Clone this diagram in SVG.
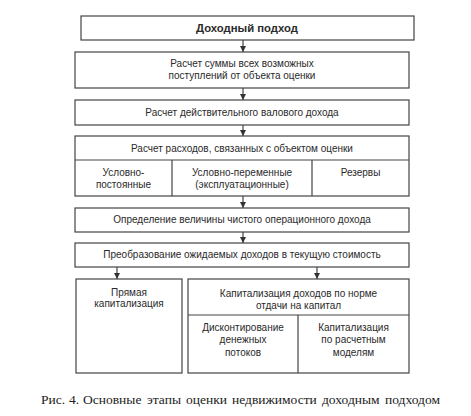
<svg xmlns="http://www.w3.org/2000/svg" width="471" height="416" viewBox="0 0 471 416">
<style>
.b{fill:#fff;stroke:#444;stroke-width:1.2}
.l{stroke:#444;stroke-width:1.2;fill:none}
.t{font-family:"Liberation Sans",Arial,sans-serif;font-size:10px;fill:#2a2a2a;text-anchor:middle}
.bold{font-weight:bold;font-size:11.3px}
.cap{font-family:"Liberation Serif","Times New Roman",serif;font-size:13.5px;fill:#222}
</style>
<defs>
<marker id="ah" viewBox="0 0 6 6" refX="6" refY="3" markerWidth="6" markerHeight="6" markerUnits="userSpaceOnUse" orient="auto">
<path d="M0,0 L6,3 L0,6 Z" fill="#333"/>
</marker>
</defs>
<rect width="471" height="416" fill="#fff"/>
<g id="connectors">
<line class="l" x1="243" y1="40" x2="243" y2="52" marker-end="url(#ah)"/>
<line class="l" x1="243" y1="88" x2="243" y2="100" marker-end="url(#ah)"/>
<line class="l" x1="243" y1="125" x2="243" y2="136" marker-end="url(#ah)"/>
<line class="l" x1="243" y1="196" x2="243" y2="208" marker-end="url(#ah)"/>
<line class="l" x1="243" y1="232" x2="243" y2="243" marker-end="url(#ah)"/>
<line class="l" x1="117" y1="267" x2="117" y2="279" marker-end="url(#ah)"/>
<line class="l" x1="317" y1="267" x2="317" y2="279" marker-end="url(#ah)"/>
</g>
<g id="n1">
<rect class="b" x="81" y="16" width="333" height="24"/>
<text class="t bold" x="247" y="32">Доходный подход</text>
</g>
<g id="n2">
<rect class="b" x="75" y="52" width="334" height="36"/>
<text class="t" x="242" y="66.5">Расчет суммы всех возможных</text>
<text class="t" x="242" y="78.5">поступлений от объекта оценки</text>
</g>
<g id="n3">
<rect class="b" x="75" y="100" width="334" height="25"/>
<text class="t" x="242" y="116">Расчет действительного валового дохода</text>
</g>
<g id="n4">
<rect class="b" x="75" y="136" width="334" height="60"/>
<line class="l" x1="75" y1="160" x2="409" y2="160"/>
<line class="l" x1="172" y1="160" x2="172" y2="196"/>
<line class="l" x1="312" y1="160" x2="312" y2="196"/>
<text class="t" x="242" y="151.5">Расчет расходов, связанных с объектом оценки</text>
<text class="t" x="123.5" y="175.5">Условно-</text>
<text class="t" x="123.5" y="187.5">постоянные</text>
<text class="t" x="242" y="175.5">Условно-переменные</text>
<text class="t" x="242" y="187.5">(эксплуатационные)</text>
<text class="t" x="360.5" y="175.5">Резервы</text>
</g>
<g id="n5">
<rect class="b" x="75" y="208" width="334" height="24"/>
<text class="t" x="242" y="223">Определение величины чистого операционного дохода</text>
</g>
<g id="n6">
<rect class="b" x="75" y="243" width="334" height="24"/>
<text class="t" x="242" y="258">Преобразование ожидаемых доходов в текущую стоимость</text>
</g>
<g id="n7">
<rect class="b" x="76" y="279" width="106" height="94"/>
<text class="t" x="129" y="295.5">Прямая</text>
<text class="t" x="129" y="307">капитализация</text>
</g>
<g id="n8">
<rect class="b" x="188" y="279" width="221" height="94"/>
<line class="l" x1="188" y1="315" x2="409" y2="315"/>
<line class="l" x1="298" y1="315" x2="298" y2="373"/>
<text class="t" x="298.5" y="296.5">Капитализация доходов по норме</text>
<text class="t" x="298.5" y="308.5">отдачи на капитал</text>
<text class="t" x="243" y="330.5">Дисконтирование</text>
<text class="t" x="243" y="343">денежных</text>
<text class="t" x="243" y="355.5">потоков</text>
<text class="t" x="353.5" y="330.5">Капитализация</text>
<text class="t" x="353.5" y="343">по расчетным</text>
<text class="t" x="353.5" y="355.5">моделям</text>
</g>
<text class="cap" y="404"><tspan x="41">Рис.</tspan><tspan x="69">4.</tspan><tspan x="83">Основные</tspan><tspan x="147">этапы</tspan><tspan x="186">оценки</tspan><tspan x="232">недвижимости</tspan><tspan x="322">доходным</tspan><tspan x="385">подходом</tspan></text>
</svg>
